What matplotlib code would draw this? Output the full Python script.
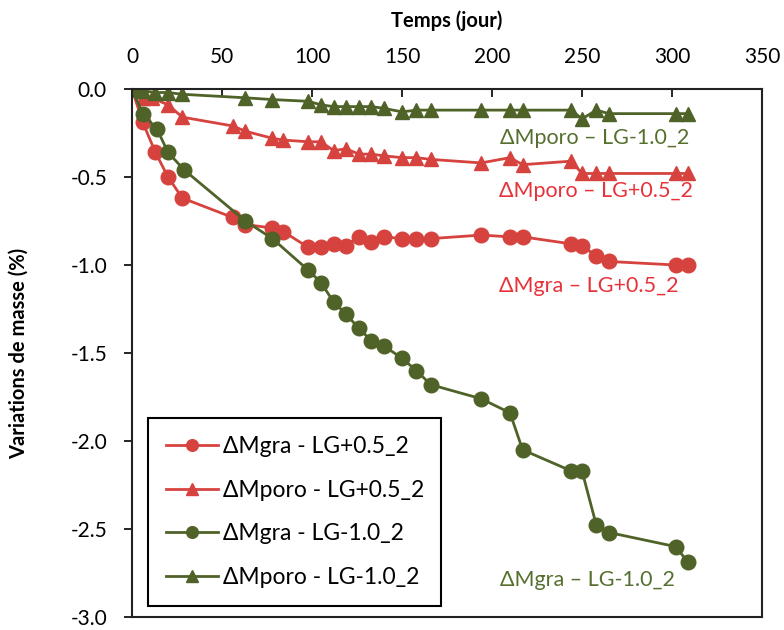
import matplotlib.pyplot as plt

plt.rcParams['font.family'] = ['Lato', 'DejaVu Sans']

# ΔMgra - LG+0.5_2
days_gra_p05 = [0, 6, 13, 20, 28, 56, 63, 78, 84, 98, 105, 112, 119, 126, 133, 140,
                150, 158, 166, 194, 210, 217, 244, 250, 258, 265, 302, 309]
gra_p05 = [0, -0.19, -0.36, -0.50, -0.62, -0.73, -0.77, -0.79, -0.81, -0.90, -0.90,
           -0.88, -0.89, -0.84, -0.87, -0.84, -0.85, -0.85, -0.85, -0.83, -0.84, -0.84,
           -0.88, -0.89, -0.95, -0.98, -1.00, -1.00]

# ΔMporo - LG+0.5_2
days_poro_p05 = [0, 6, 11, 20, 28, 56, 63, 78, 84, 98, 105, 112, 119, 126, 133, 140,
                 150, 158, 166, 194, 210, 217, 244, 250, 258, 265, 302, 309]
poro_p05 = [0, -0.05, -0.05, -0.09, -0.16, -0.21, -0.24, -0.28, -0.29, -0.30, -0.30,
            -0.35, -0.34, -0.37, -0.37, -0.38, -0.39, -0.39, -0.40, -0.42, -0.39, -0.43,
            -0.41, -0.48, -0.48, -0.48, -0.48, -0.48]

# ΔMgra - LG-1.0_2
days_gra_m10 = [0, 6, 14, 20, 29, 63, 78, 98, 105, 112, 119, 126, 133, 140,
                150, 158, 166, 194, 210, 217, 244, 250, 258, 265, 302, 309]
gra_m10 = [0, -0.14, -0.23, -0.36, -0.46, -0.75, -0.85, -1.03, -1.10, -1.21, -1.28,
           -1.36, -1.43, -1.46, -1.53, -1.60, -1.68, -1.76, -1.84, -2.05, -2.17, -2.17,
           -2.48, -2.52, -2.60, -2.69]

# ΔMporo - LG-1.0_2
days_poro_m10 = [0, 6, 13, 20, 28, 63, 78, 98, 105, 112, 119, 126, 133, 140,
                 150, 158, 166, 194, 210, 217, 244, 250, 258, 265, 302, 309]
poro_m10 = [0, -0.01, -0.02, -0.02, -0.03, -0.05, -0.06, -0.07, -0.09, -0.10, -0.10,
            -0.10, -0.10, -0.11, -0.13, -0.12, -0.12, -0.12, -0.12, -0.12, -0.12, -0.17,
            -0.12, -0.14, -0.14, -0.14]

red = '#D6433F'
green = '#4F6228'
red_txt = '#E8323A'
green_txt = '#55702E'

fig = plt.figure(figsize=(7.84, 6.3), dpi=100)
ax = fig.add_axes([132 / 784, 13 / 630, 630 / 784, 528 / 630])

ax.plot(days_gra_p05, gra_p05, '-o', color=red, lw=2, ms=10.5, label='ΔMgra - LG+0.5_2')
ax.plot(days_poro_p05, poro_p05, '-^', color=red, lw=2, ms=10.5, label='ΔMporo - LG+0.5_2')
ax.plot(days_gra_m10, gra_m10, '-o', color=green, lw=2, ms=10.5, label='ΔMgra - LG-1.0_2')
ax.plot(days_poro_m10, poro_m10, '-^', color=green, lw=2, ms=10.5, label='ΔMporo - LG-1.0_2')

ax.set_xlim(0, 350)
ax.set_ylim(-3.0, 0.0)
ax.set_xticks(range(0, 351, 50))
ax.set_yticks([0.0, -0.5, -1.0, -1.5, -2.0, -2.5, -3.0])
ax.set_yticklabels(['0.0', '-0.5', '-1.0', '-1.5', '-2.0', '-2.5', '-3.0'])
ax.xaxis.tick_top()
ax.xaxis.set_label_position('top')
ax.tick_params(axis='x', direction='in', length=6, labelsize=15, pad=16, width=1.2)
ax.tick_params(axis='y', direction='out', length=6, labelsize=15, pad=12, width=1.2)
ax.set_xlabel('Temps (jour)', fontsize=14.5, fontweight='bold', labelpad=14)
ax.set_ylabel('Variations de masse (%)', fontsize=14.5, fontweight='bold', labelpad=30)
for s in ax.spines.values():
    s.set_linewidth(1.5)
    s.set_color('#222222')

ax.text(257, -0.28, 'ΔMporo – LG-1.0_2', color=green_txt, fontsize=15.5, ha='center', va='center')
ax.text(258, -0.58, 'ΔMporo – LG+0.5_2', color=red_txt, fontsize=15.5, ha='center', va='center')
ax.text(254, -1.12, 'ΔMgra – LG+0.5_2', color=red_txt, fontsize=15.5, ha='center', va='center')
ax.text(253, -2.79, 'ΔMgra – LG-1.0_2', color=green_txt, fontsize=15.5, ha='center', va='center')

leg = ax.legend(loc='lower left', bbox_to_anchor=(0.008, 0.0), fontsize=16.5,
                fancybox=False, framealpha=1, edgecolor='black', handlelength=2.3,
                handletextpad=0.2, labelspacing=1.0, borderpad=0.75, markerscale=0.8)
leg.get_frame().set_linewidth(1.5)

fig.savefig('out.png', dpi=100)
